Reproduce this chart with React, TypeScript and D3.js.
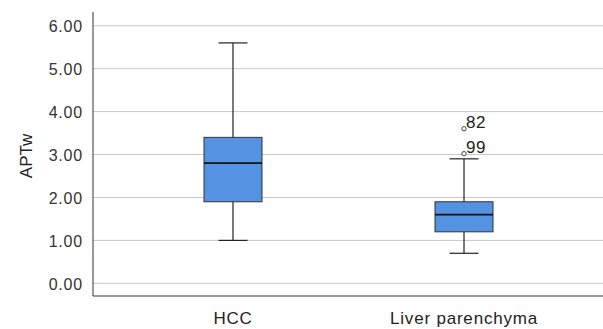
import * as d3 from 'd3';
import { useEffect, useRef } from 'react';

const groups = ['HCC', 'Liver parenchyma'];
const lowWhisker = [1.0, 0.7];
const q1 = [1.9, 1.2];
const median = [2.8, 1.6];
const q3 = [3.4, 1.9];
const highWhisker = [5.6, 2.9];
const outliers = [
  { group: 'Liver parenchyma', value: 3.6, label: '82' },
  { group: 'Liver parenchyma', value: 3.02, label: '99' },
];
const yTicks = [0, 1, 2, 3, 4, 5, 6];

const App = () => {
  const ref = useRef<SVGSVGElement>(null);

  useEffect(() => {
    const width = 603;
    const height = 329;
    const margin = { top: 12, right: 0, bottom: 33, left: 93 };
    const font = 'Liberation Sans, Arial, Helvetica, sans-serif';

    const svg = d3.select(ref.current);
    svg.selectAll('*').remove();
    svg.attr('width', width).attr('height', height);

    const x = d3.scalePoint<string>()
      .domain(groups)
      .range([margin.left, width + 1])
      .padding(0.606);
    const y = d3.scaleLinear()
      .domain([-0.295, 6.32])
      .range([height - margin.bottom, margin.top]);

    // gridlines
    svg.append('g')
      .selectAll('line')
      .data(yTicks)
      .enter()
      .append('line')
      .attr('x1', margin.left)
      .attr('x2', width)
      .attr('y1', d => y(d))
      .attr('y2', d => y(d))
      .attr('stroke', '#c8c8c8')
      .attr('stroke-width', 1);

    // y axis
    const yAxis = svg.append('g')
      .attr('transform', `translate(${margin.left},0)`)
      .call(d3.axisLeft(y).tickValues(yTicks).tickFormat(d3.format('.2f')).tickSize(0).tickPadding(10));
    yAxis.select('.domain').remove();
    yAxis.selectAll('text')
      .attr('fill', '#333')
      .attr('dy', '0.36em')
      .style('font-family', font)
      .style('font-size', '16px')
      .style('letter-spacing', '0.8px');

    // axis lines
    svg.append('line')
      .attr('x1', margin.left).attr('x2', margin.left)
      .attr('y1', margin.top).attr('y2', height - margin.bottom)
      .attr('stroke', '#333').attr('stroke-width', 1);
    svg.append('line')
      .attr('x1', margin.left).attr('x2', width)
      .attr('y1', height - margin.bottom).attr('y2', height - margin.bottom)
      .attr('stroke', '#333').attr('stroke-width', 1);

    // x labels
    svg.append('g')
      .selectAll('text')
      .data(groups)
      .enter()
      .append('text')
      .attr('x', d => x(d)!)
      .attr('y', 324)
      .attr('text-anchor', 'middle')
      .attr('fill', '#222')
      .style('font-family', font)
      .style('font-size', '17px')
      .style('letter-spacing', '0.8px')
      .text(d => d);

    // y title
    svg.append('text')
      .attr('transform', `translate(32,156) rotate(-90)`)
      .attr('text-anchor', 'middle')
      .attr('fill', '#222')
      .style('font-family', font)
      .style('font-size', '17px')
      .text('APTw');

    const boxW = 58;
    const capW = 29;
    const boxes = svg.append('g')
      .selectAll('g')
      .data(groups.map((g, i) => ({ g, i })))
      .enter()
      .append('g');

    boxes.append('line')
      .attr('x1', d => x(d.g)!).attr('x2', d => x(d.g)!)
      .attr('y1', d => y(highWhisker[d.i])).attr('y2', d => y(lowWhisker[d.i]))
      .attr('stroke', '#222').attr('stroke-width', 1.2);
    boxes.selectAll('line.cap')
      .data(d => [highWhisker[d.i], lowWhisker[d.i]].map(v => ({ g: d.g, v })))
      .enter()
      .append('line')
      .attr('class', 'cap')
      .attr('x1', d => x(d.g)! - capW / 2).attr('x2', d => x(d.g)! + capW / 2)
      .attr('y1', d => y(d.v)).attr('y2', d => y(d.v))
      .attr('stroke', '#222').attr('stroke-width', 1.2);
    boxes.append('rect')
      .attr('x', d => x(d.g)! - boxW / 2)
      .attr('y', d => y(q3[d.i]))
      .attr('width', boxW)
      .attr('height', d => y(q1[d.i]) - y(q3[d.i]))
      .attr('fill', '#5493e2')
      .attr('stroke', '#333')
      .attr('stroke-width', 1);
    boxes.append('line')
      .attr('x1', d => x(d.g)! - boxW / 2).attr('x2', d => x(d.g)! + boxW / 2)
      .attr('y1', d => y(median[d.i])).attr('y2', d => y(median[d.i]))
      .attr('stroke', '#111').attr('stroke-width', 1.8);

    // outliers
    const out = svg.append('g')
      .selectAll('g')
      .data(outliers)
      .enter()
      .append('g');
    out.append('circle')
      .attr('cx', d => x(d.group)!)
      .attr('cy', d => y(d.value))
      .attr('r', 2.2)
      .attr('fill', 'white')
      .attr('stroke', '#333')
      .attr('stroke-width', 0.9);
    out.append('text')
      .attr('x', d => x(d.group)! + 2)
      .attr('y', d => y(d.value) - 1)
      .attr('fill', '#222')
      .style('font-family', font)
      .style('font-size', '17px')
      .style('letter-spacing', '0.5px')
      .text(d => d.label);
  }, []);

  return <svg ref={ref} style={{ position: 'absolute', top: 0, left: 0, display: 'block' }} />;
};

export default App;
